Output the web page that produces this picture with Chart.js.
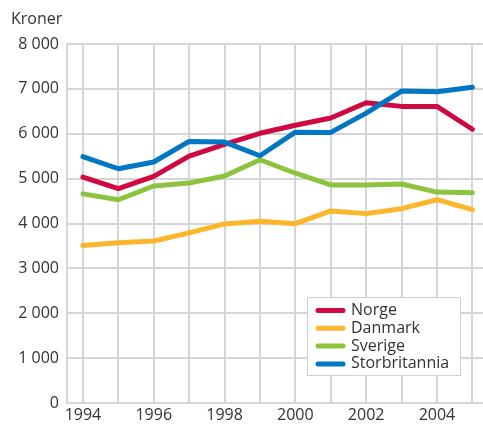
<!DOCTYPE html>
<html>
<head>
<meta charset="utf-8">
<script src="https://cdn.jsdelivr.net/npm/chart.js@4"></script>
<style>
  html, body { margin: 0; padding: 0; background: #fff; }
  #wrap { width: 483px; height: 424px; }
</style>
</head>
<body>
<div id="wrap"><canvas id="myChart" width="483" height="424"></canvas></div>
<script>
var years = [1994, 1995, 1996, 1997, 1998, 1999, 2000, 2001, 2002, 2003, 2004, 2005];
var norge = [5035, 4775, 5050, 5500, 5765, 6010, 6190, 6350, 6690, 6610, 6610, 6100];
var danmark = [3510, 3570, 3610, 3790, 3990, 4050, 3995, 4280, 4220, 4330, 4530, 4310];
var sverige = [4660, 4530, 4835, 4900, 5060, 5420, 5120, 4860, 4860, 4880, 4700, 4685];
var storbritannia = [5490, 5220, 5370, 5830, 5815, 5510, 6035, 6030, 6460, 6950, 6935, 7035];
var yTicks = [0, 1000, 2000, 3000, 4000, 5000, 6000, 7000, 8000];

var gridColor = '#d5d5d5';
var textColor = '#333333';
var fontFamily = '"Open Sans", "Noto Sans", sans-serif';

function toPoints(values) {
    return years.map(function(y, i) { return { x: y, y: values[i] }; });
}

function fmt(v) {
    var s = String(v);
    if (s.length > 3) s = s.slice(0, s.length - 3) + ' ' + s.slice(-3);
    return s;
}

var extras = {
    id: 'extras',
    afterDraw: function(chart) {
        var ctx = chart.ctx;
        ctx.save();
        // axis title
        ctx.fillStyle = textColor;
        ctx.font = '16px ' + fontFamily;
        ctx.textAlign = 'left';
        ctx.textBaseline = 'middle';
        ctx.fillText('Kroner', 11, 19);

        // legend inside plot
        var bx = 307, by = 297, bw = 154, bh = 79;
        ctx.fillStyle = '#ffffff';
        ctx.fillRect(bx, by, bw, bh);
        ctx.strokeStyle = '#cfcfcf';
        ctx.lineWidth = 1;
        ctx.strokeRect(bx + 0.5, by + 0.5, bw - 1, bh - 1);
        chart.data.datasets.forEach(function(ds, i) {
            var cy = by + 13.5 + i * 17.8;
            ctx.strokeStyle = ds.borderColor;
            ctx.lineWidth = 5;
            ctx.lineCap = 'round';
            ctx.beginPath();
            ctx.moveTo(bx + 11, cy);
            ctx.lineTo(bx + 36, cy);
            ctx.stroke();
            ctx.fillStyle = textColor;
            ctx.font = '16px ' + fontFamily;
            ctx.textBaseline = 'middle';
            ctx.fillText(ds.label, bx + 44, cy);
        });
        ctx.restore();
    }
};

function line(label, values, color, order) {
    return {
        label: label,
        data: toPoints(values),
        borderColor: color,
        backgroundColor: color,
        borderWidth: 5,
        pointRadius: 0,
        tension: 0,
        borderCapStyle: 'round',
        borderJoinStyle: 'round',
        order: order
    };
}

var ctx = document.getElementById('myChart').getContext('2d');
var myChart = new Chart(ctx, {
    type: 'line',
    data: {
        datasets: [
            line('Norge', norge, '#cf0a43', 2),
            line('Danmark', danmark, '#fdb62b', 3),
            line('Sverige', sverige, '#8cc43f', 4),
            line('Storbritannia', storbritannia, '#0077c2', 1)
        ]
    },
    options: {
        responsive: false,
        animation: false,
        layout: { padding: { top: 44, right: 0, left: 0, bottom: 0 } },
        plugins: {
            legend: { display: false },
            tooltip: { enabled: false }
        },
        scales: {
            x: {
                type: 'linear',
                min: 1993.55,
                max: 2005.3,
                afterBuildTicks: function(scale) {
                    scale.ticks = years.map(function(y) { return { value: y }; });
                },
                afterFit: function(scale) { scale.height = 21; },
                grid: { color: gridColor, lineWidth: 2, drawTicks: false },
                border: { color: gridColor, width: 2 },
                ticks: {
                    color: textColor,
                    font: { size: 16, family: fontFamily },
                    padding: 3,
                    maxRotation: 0,
                    autoSkip: false,
                    callback: function(v) { return v % 2 === 0 ? String(v) : ''; }
                }
            },
            y: {
                min: 0,
                max: 8000,
                afterBuildTicks: function(scale) {
                    scale.ticks = yTicks.map(function(v) { return { value: v }; });
                },
                afterFit: function(scale) { scale.width = 67; },
                grid: { color: gridColor, lineWidth: 2, drawTicks: false },
                border: { color: gridColor, width: 2 },
                ticks: {
                    color: textColor,
                    font: { size: 16, family: fontFamily },
                    padding: 8,
                    callback: function(v) { return fmt(v); }
                }
            }
        }
    },
    plugins: [extras]
});
</script>
</body>
</html>
